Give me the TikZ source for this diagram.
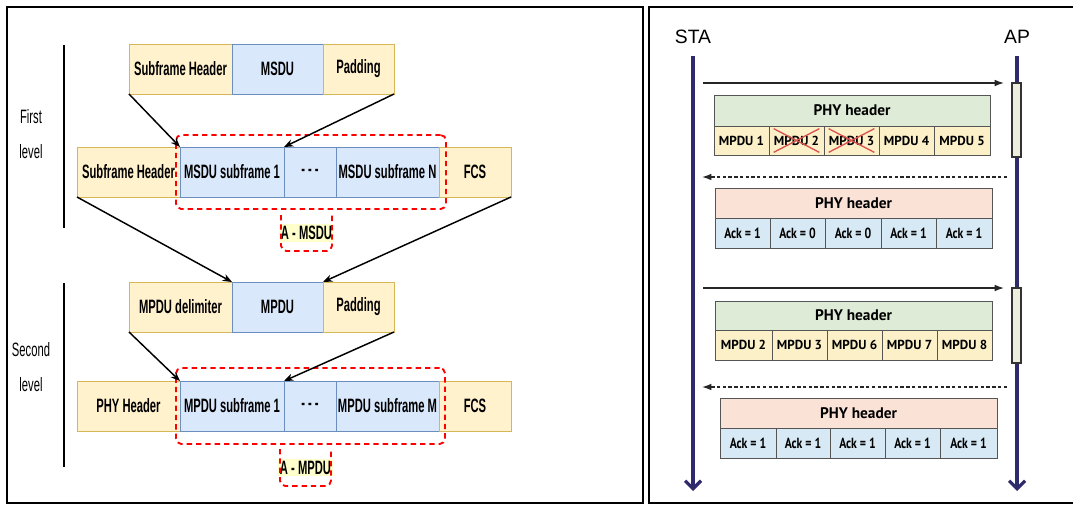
\documentclass[tikz,border=0pt]{standalone}
\usepackage{fontspec}
\setmainfont{Liberation Sans}
\newfontfamily\lfont[FakeStretch=0.58]{Liberation Sans}
\newfontfamily\rfont{PT Sans}
\newfontfamily\ackfont[FakeStretch=0.8]{PT Sans}
\usetikzlibrary{arrows.meta}
\definecolor{yfill}{HTML}{FFF2CC}
\definecolor{yline}{HTML}{D6B656}
\definecolor{bfill}{HTML}{DAE8FC}
\definecolor{bline}{HTML}{6C8EBF}
\definecolor{dred}{HTML}{FF0000}
\definecolor{lblfill}{HTML}{FFFFCC}
\definecolor{navy}{HTML}{2E2A6B}
\definecolor{gfill}{HTML}{DDEBD7}
\definecolor{myfill}{HTML}{FBF0C8}
\definecolor{sfill}{HTML}{FBE2D7}
\definecolor{abfill}{HTML}{D6E9F4}
\definecolor{cline}{HTML}{555555}
\definecolor{xred}{HTML}{D9534F}
\definecolor{barfill}{HTML}{EEEEDC}
\newcommand\mkcell[7]{\node[#2, minimum width={(#5-#3)*0.75pt}, minimum height={(#6-#4)*0.75pt}] (#1) at ({(#3+#5)/2},{(#4+#6)/2}) {#7};}
\begin{document}
\begin{tikzpicture}[x=0.75pt,y=-0.75pt,
  cellbase/.style={draw, inner sep=0pt, outer sep=0pt, line width=0.75pt},
  ltext/.style={font={\lfont\bfseries\fontsize{14.5}{16}\selectfont}},
  ycell/.style={cellbase, ltext, fill=yfill, draw=yline},
  bcell/.style={cellbase, ltext, fill=bfill, draw=bline},
  redframe/.style={draw=dred, line width=1.4pt, dash pattern=on 4pt off 3pt, rounded corners=4pt, inner sep=0pt, outer sep=0pt},
  lblbox/.style={inner sep=0pt, outer sep=0pt},
  lbltext/.style={ltext, fill=lblfill, inner sep=1.5pt},
  leveltext/.style={font={\lfont\fontsize{14.5}{16}\selectfont}},
  conn/.style={line width=1.1pt, -{Stealth[length=7pt,width=5.5pt]}},
  panel/.style={line width=1.5pt},
  rcell/.style={draw=cline, line width=0.6pt, inner sep=0pt, outer sep=0pt, font={\rfont\bfseries\fontsize{9.8}{11}\selectfont}},
  hdrg/.style={rcell, fill=gfill, font={\rfont\bfseries\fontsize{11.5}{13}\selectfont}},
  hdrs/.style={rcell, fill=sfill, font={\rfont\bfseries\fontsize{11.5}{13}\selectfont}},
  mcell/.style={rcell, fill=myfill},
  acell/.style={rcell, fill=abfill, font={\ackfont\bfseries\fontsize{11}{12}\selectfont}},
  barsty/.style={draw=black!80, line width=0.8pt, fill=barfill, inner sep=0pt, outer sep=0pt},
  life/.style={draw=navy, line width=2.4pt, -{Straight Barb[length=6pt,width=12pt]}},
  msg/.style={line width=1pt, draw=black!85, -{Latex[length=7pt,width=5pt]}},
  dmsg/.style={msg, dash pattern=on 2.5pt off 1.8pt},
  xline/.style={draw=xred, line width=1pt},
  who/.style={font={\fontsize{14.5}{16}\selectfont}, inner sep=0pt}
]
\useasboundingbox (0,0) rectangle (1073,504);
\fill[white] (0,0) rectangle (1073,504);
% panels
\draw[panel] (7,7) rectangle (643,503);
\draw[panel] (649,7) rectangle (1076,503);

% ---------- left: first level ----------
\mkcell{sh1}{ycell}{129}{44}{232}{94}{Subframe Header}
\mkcell{msdu}{bcell}{232}{44}{323}{94}{MSDU}
\mkcell{pad1}{ycell}{323}{44}{394}{94}{Padding}

\mkcell{sh2}{ycell}{77}{147}{180}{197}{Subframe Header}
\mkcell{ms1}{bcell}{180}{147}{284}{197}{MSDU subframe 1}
\mkcell{dots1}{bcell}{284}{147}{336}{197}{- - -}
\mkcell{msN}{bcell}{336}{147}{439}{197}{MSDU subframe N}
\mkcell{fcs1}{ycell}{439}{147}{511}{197}{FCS}

\mkcell{fr1}{redframe}{176}{135}{446}{209}{}
\mkcell{lb1}{lblbox}{281}{215}{332}{251}{}
\node[lbltext] (lt1) at (lb1.center) {A - MSDU};
\draw[redframe] (lb1.north west) |- (lb1.south east) -- (lb1.north east);

\draw[conn] (sh1.south west) -- (ms1.north west);
\draw[conn] (pad1.south east) -- (ms1.north east);

\coordinate (lv1a) at (64,45);
\coordinate (lv1b) at (64,228);
\draw[line width=1.1pt] (lv1a) -- (lv1b);
\node[leveltext] (first) at (31,117) {First};
\node[leveltext] (lvl1) at (31,152) {level};

% ---------- left: second level ----------
\mkcell{del}{ycell}{129}{282}{232}{332}{MPDU delimiter}
\mkcell{mpdu}{bcell}{232}{282}{323}{332}{MPDU}
\mkcell{pad2}{ycell}{323}{282}{394}{332}{Padding}

\draw[conn] (sh2.south west) -- (mpdu.north west);
\draw[conn] (fcs1.south east) -- (mpdu.north east);

\mkcell{phy}{ycell}{77}{381}{180}{431}{PHY Header}
\mkcell{mp1}{bcell}{180}{381}{284}{431}{MPDU subframe 1}
\mkcell{dots2}{bcell}{284}{381}{336}{431}{- - -}
\mkcell{mpM}{bcell}{336}{381}{439}{431}{MPDU subframe M}
\mkcell{fcs2}{ycell}{439}{381}{511}{431}{FCS}

\mkcell{fr2}{redframe}{176}{368}{445}{444}{}
\mkcell{lb2}{lblbox}{280}{449}{331}{486}{}
\node[lbltext] (lt2) at (lb2.center) {A - MPDU};
\draw[redframe] (lb2.north west) |- (lb2.south east) -- (lb2.north east);

\draw[conn] (del.south west) -- (mp1.north west);
\draw[conn] (pad2.south east) -- (mp1.north east);

\coordinate (lv2a) at (64,283);
\coordinate (lv2b) at (64,467);
\draw[line width=1.1pt] (lv2a) -- (lv2b);
\node[leveltext] (second) at (31,350) {Second};
\node[leveltext] (lvl2) at (31,385) {level};

% ---------- right panel ----------
\node[who] (sta) at (693,37) {STA};
\node[who] (ap) at (1017,37) {AP};
\coordinate (staTop) at (693,56);
\coordinate (staEnd) at (693,491);
\coordinate (apTop) at (1017,56);
\coordinate (apEnd) at (1017,491);
\draw[life] (staTop) -- (staEnd);
\draw[life] (apTop) -- (apEnd);

\mkcell{bar1}{barsty}{1012}{83}{1021}{157}{}
\mkcell{bar2}{barsty}{1012}{288}{1021}{363}{}

% exchange 1
\coordinate (m1s) at (703,83);
\coordinate (m1e) at (1004,83);
\draw[msg] (m1s) -- (m1e);
\mkcell{h1}{hdrg}{714}{95}{990}{126}{PHY header}
\mkcell{c11}{mcell}{714}{126}{769}{155}{MPDU 1}
\mkcell{c12}{mcell}{769}{126}{824}{155}{MPDU 2}
\mkcell{c13}{mcell}{824}{126}{879}{155}{MPDU 3}
\mkcell{c14}{mcell}{879}{126}{934}{155}{MPDU 4}
\mkcell{c15}{mcell}{934}{126}{990}{155}{MPDU 5}
\draw[xline] ([xshift=3.5pt,yshift=-2pt]c12.north west) -- ([xshift=-3.5pt,yshift=2pt]c12.south east);
\draw[xline] ([xshift=3.5pt,yshift=2pt]c12.south west) -- ([xshift=-3.5pt,yshift=-2pt]c12.north east);
\draw[xline] ([xshift=3.5pt,yshift=-2pt]c13.north west) -- ([xshift=-3.5pt,yshift=2pt]c13.south east);
\draw[xline] ([xshift=3.5pt,yshift=2pt]c13.south west) -- ([xshift=-3.5pt,yshift=-2pt]c13.north east);

\coordinate (d1s) at (1007,177);
\coordinate (d1e) at (702,177);
\draw[dmsg] (d1s) -- (d1e);
\mkcell{h2}{hdrs}{715}{188}{992}{218}{PHY header}
\mkcell{a21}{acell}{715}{218}{770}{248}{Ack = 1}
\mkcell{a22}{acell}{770}{218}{825}{248}{Ack = 0}
\mkcell{a23}{acell}{825}{218}{881}{248}{Ack = 0}
\mkcell{a24}{acell}{881}{218}{936}{248}{Ack = 1}
\mkcell{a25}{acell}{936}{218}{992}{248}{Ack = 1}

% exchange 2
\coordinate (m2s) at (703,288);
\coordinate (m2e) at (1004,288);
\draw[msg] (m2s) -- (m2e);
\mkcell{h3}{hdrg}{715}{301}{992}{330}{PHY header}
\mkcell{c31}{mcell}{715}{330}{772}{360}{MPDU 2}
\mkcell{c32}{mcell}{772}{330}{827}{360}{MPDU 3}
\mkcell{c33}{mcell}{827}{330}{882}{360}{MPDU 6}
\mkcell{c34}{mcell}{882}{330}{937}{360}{MPDU 7}
\mkcell{c35}{mcell}{937}{330}{992}{360}{MPDU 8}

\coordinate (d2s) at (1007,387);
\coordinate (d2e) at (702,387);
\draw[dmsg] (d2s) -- (d2e);
\mkcell{h4}{hdrs}{720}{398}{997}{428}{PHY header}
\mkcell{a41}{acell}{720}{428}{776}{458}{Ack = 1}
\mkcell{a42}{acell}{776}{428}{830}{458}{Ack = 1}
\mkcell{a43}{acell}{830}{428}{885}{458}{Ack = 1}
\mkcell{a44}{acell}{885}{428}{940}{458}{Ack = 1}
\mkcell{a45}{acell}{940}{428}{997}{458}{Ack = 1}
\end{tikzpicture}
\end{document}
